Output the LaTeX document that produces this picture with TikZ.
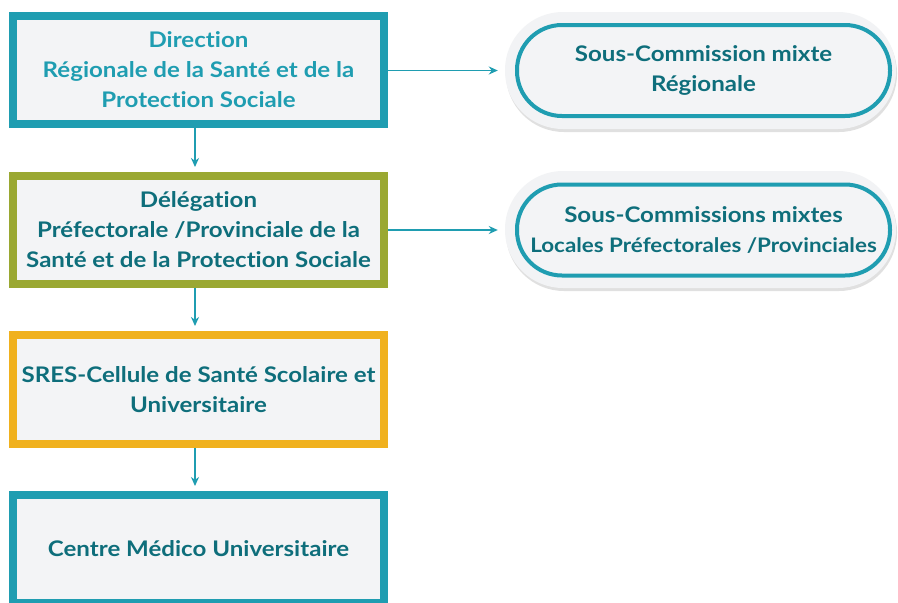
\documentclass[tikz,border=0pt]{standalone}
\usepackage{fontspec}
\setmainfont{Lato}[UprightFont=* Bold, FakeStretch=1.12, Ligatures=NoCommon]
\usetikzlibrary{arrows.meta,shadows}
\definecolor{teal1}{HTML}{1F9DB1}
\definecolor{olive1}{HTML}{9AA832}
\definecolor{orange1}{HTML}{F0B11E}
\definecolor{darkteal}{HTML}{0E6E7B}
\definecolor{boxfill}{HTML}{F3F4F6}
\definecolor{halofill}{HTML}{F2F3F5}
\tikzset{
  boxnode/.style={rectangle, line width=8pt, fill=boxfill, minimum width=371pt,
    minimum height=108pt, align=center, text=darkteal, inner sep=0pt,
    font=\fontsize{21.5}{30}\selectfont,
    drop shadow={shadow xshift=2pt, shadow yshift=-3pt, opacity=0.25, fill=black!60}},
  halo/.style={rectangle, rounded corners=58pt, fill=halofill, minimum width=391pt,
    minimum height=117pt, inner sep=0pt,
    drop shadow={shadow xshift=1pt, shadow yshift=-3pt, opacity=0.2, fill=black!60}},
  pill/.style={rectangle, rounded corners=45pt, draw=teal1, line width=4pt, fill=boxfill,
    minimum width=373pt, minimum height=91pt, inner sep=0pt, align=center, text=darkteal,
    font=\fontsize{21.5}{30}\selectfont},
  conn/.style={draw=teal1, line width=1.8pt, -{Stealth[length=9pt,width=8pt]}}
}
\begin{document}
\begin{tikzpicture}[x=1pt,y=-1pt]
\clip (0,0) rectangle (898,603);
\fill[white] (0,0) rectangle (898,603);
\node[boxnode, draw=teal1, text=teal1] (d1) at (198.5,70) {Direction\\Régionale de la Santé et de la\\Protection Sociale};
\node[boxnode, draw=olive1] (d2) at (198.5,230) {Délégation\\Préfectorale /Provinciale de la\\Santé et de la Protection Sociale};
\node[boxnode, draw=orange1, minimum height=109pt] (d3) at (198.5,389.5) {SRES-Cellule de Santé Scolaire et\\Universitaire};
\node[boxnode, draw=teal1] (d4) at (198.5,549) {Centre Médico Universitaire};
\node[halo] (h1) at (700.5,70.5) {};
\node[pill] (s1) at (703.5,70.5) {Sous-Commission mixte\\Régionale};
\node[halo] (h2) at (700.5,229.5) {};
\node[pill] (s2) at (703.5,230) {Sous-Commissions mixtes\\{\fontsize{20}{30}\selectfont Locales Préfectorales /Provinciales}};
\draw[conn, shorten >=5pt] ([xshift=-3.5pt]d1.south) -- ([xshift=-3.5pt]d2.north);
\draw[conn, shorten >=5pt] ([xshift=-3.5pt]d2.south) -- ([xshift=-3.5pt]d3.north);
\draw[conn, shorten >=5pt] ([xshift=-3.5pt]d3.south) -- ([xshift=-3.5pt]d4.north);
\draw[conn, shorten >=7pt] (d1.east |- s1.west) -- (h1.west |- s1.west);
\draw[conn, shorten >=7pt] (d2.east |- s2.west) -- (h2.west |- s2.west);
\end{tikzpicture}
\end{document}
